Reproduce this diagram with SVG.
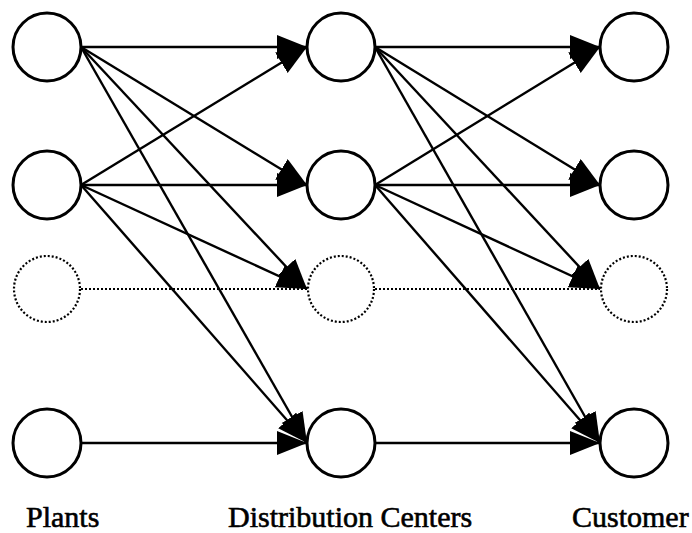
<svg xmlns="http://www.w3.org/2000/svg" width="692" height="533" viewBox="0 0 692 533">
  <style>
    .node { fill: #fff; stroke: #000; stroke-width: 3; }
    .ghost { fill: #fff; stroke: #000; stroke-width: 2.2; stroke-dasharray: 2 2; }
    .edge { stroke: #000; stroke-width: 2.4; fill: none; marker-end: url(#head); }
    .dots { stroke: #000; stroke-width: 2; stroke-dasharray: 2 2; fill: none; }
    .label { font-family: "Liberation Serif", "Times New Roman", serif; font-size: 30px; fill: #000; stroke: #000; stroke-width: 0.6; }
  </style>
  <defs>
    <marker id="head" markerUnits="userSpaceOnUse" markerWidth="32" markerHeight="26" refX="30" refY="12" orient="auto">
      <path d="M0,0 L30,12 L0,24 Z" fill="#000"/>
    </marker>
  </defs>

  <!-- connectors -->
  <g id="connectors">
    <!-- plants to distribution centers -->
    <line class="edge" x1="81" y1="47" x2="307" y2="47"/>
    <line class="edge" x1="81" y1="47" x2="307" y2="185"/>
    <line class="edge" x1="81" y1="47" x2="307" y2="289"/>
    <line class="edge" x1="81" y1="47" x2="307" y2="443"/>
    <line class="edge" x1="81" y1="185" x2="307" y2="47"/>
    <line class="edge" x1="81" y1="185" x2="307" y2="185"/>
    <line class="edge" x1="81" y1="185" x2="307" y2="289"/>
    <line class="edge" x1="81" y1="185" x2="307" y2="443"/>
    <line class="dots" x1="81" y1="289" x2="307" y2="289"/>
    <line class="edge" x1="81" y1="443" x2="307" y2="443"/>
    <!-- distribution centers to customers -->
    <line class="edge" x1="375" y1="47" x2="600" y2="47"/>
    <line class="edge" x1="375" y1="47" x2="600" y2="185"/>
    <line class="edge" x1="375" y1="47" x2="600" y2="289"/>
    <line class="edge" x1="375" y1="47" x2="600" y2="443"/>
    <line class="edge" x1="375" y1="185" x2="600" y2="47"/>
    <line class="edge" x1="375" y1="185" x2="600" y2="185"/>
    <line class="edge" x1="375" y1="185" x2="600" y2="289"/>
    <line class="edge" x1="375" y1="185" x2="600" y2="443"/>
    <line class="dots" x1="375" y1="289" x2="600" y2="289"/>
    <line class="edge" x1="375" y1="443" x2="600" y2="443"/>
  </g>

  <!-- plants -->
  <g id="plant-1"><circle class="node" cx="47" cy="47" r="34"/></g>
  <g id="plant-2"><circle class="node" cx="47" cy="185" r="34"/></g>
  <g id="plant-3"><circle class="ghost" cx="47" cy="289" r="33"/></g>
  <g id="plant-4"><circle class="node" cx="47" cy="443" r="34"/></g>

  <!-- distribution centers -->
  <g id="dc-1"><circle class="node" cx="341" cy="47" r="34"/></g>
  <g id="dc-2"><circle class="node" cx="341" cy="185" r="34"/></g>
  <g id="dc-3"><circle class="ghost" cx="341" cy="289" r="33"/></g>
  <g id="dc-4"><circle class="node" cx="341" cy="443" r="34"/></g>

  <!-- customers -->
  <g id="customer-1"><circle class="node" cx="634" cy="47" r="34"/></g>
  <g id="customer-2"><circle class="node" cx="634" cy="185" r="34"/></g>
  <g id="customer-3"><circle class="ghost" cx="634" cy="289" r="33"/></g>
  <g id="customer-4"><circle class="node" cx="634" cy="443" r="34"/></g>

  <!-- column captions -->
  <g id="captions" font-family="Liberation Serif, serif">
    <text class="label" x="26" y="527">Plants</text>
    <text class="label" x="228" y="527">Distribution Centers</text>
    <text class="label" x="572" y="527">Customer</text>
  </g>
</svg>
